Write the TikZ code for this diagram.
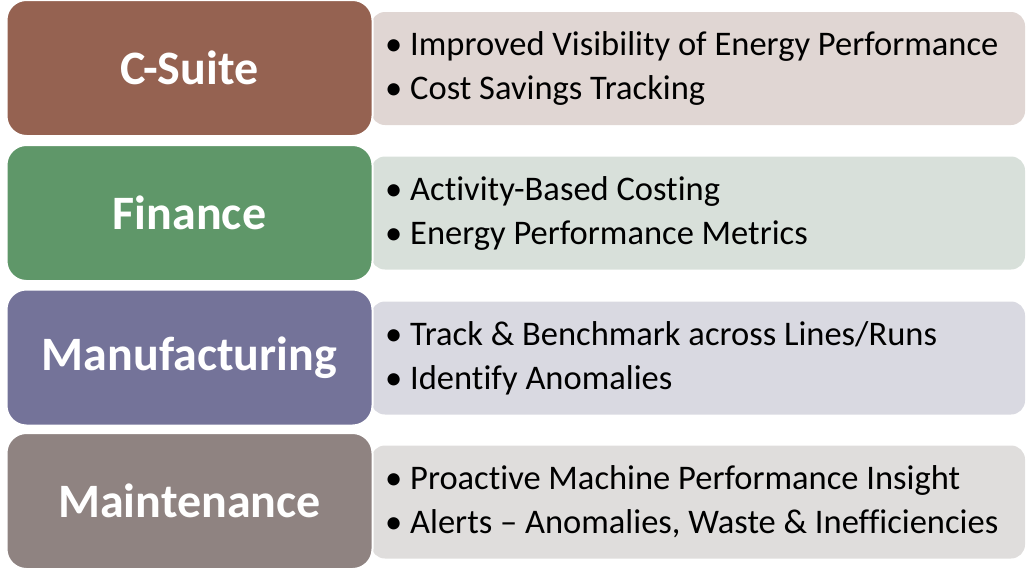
\documentclass[tikz,border=0pt]{standalone}
\usepackage{fontspec}
\setmainfont{Carlito}[Ligatures=NoCommon]
\usepackage{xcolor}
\usepackage{tikz}
\definecolor{csuite}{HTML}{956251}
\definecolor{csuitelt}{HTML}{E0D6D3}
\definecolor{finance}{HTML}{5F9769}
\definecolor{financelt}{HTML}{D8E0DA}
\definecolor{manuf}{HTML}{747399}
\definecolor{manuflt}{HTML}{D9D9E1}
\definecolor{maint}{HTML}{8F8381}
\definecolor{maintlt}{HTML}{DFDDDC}
\tikzset{
    role/.style = {rectangle, rounded corners=20pt, draw=white, line width=2pt, minimum width=366pt, minimum height=136pt, inner sep=0pt, text=white, font=\fontsize{48}{56}\selectfont\bfseries},
    info/.style = {rectangle, rounded corners=14pt, minimum width=654pt, minimum height=113pt, inner sep=0pt},
    items/.style = {anchor=west, align=left, inner sep=0pt, text=black, font=\fontsize{34.5}{44}\selectfont}
}
\begin{document}
\begin{tikzpicture}[x=1pt,y=-1pt]
    \useasboundingbox (0,0) rectangle (1031,568);
    % C-Suite
    \node [info, fill=csuitelt] (csuite_info) at (698,68.5) {};
    \node [role, fill=csuite] (csuite) at (189.5,68) {C-Suite};
    \node [items] (csuite_items) at (385,68) {• Improved Visibility of Energy Performance\\• Cost Savings Tracking};
    % Finance
    \node [info, fill=financelt] (finance_info) at (698,213) {};
    \node [role, fill=finance] (finance) at (189.5,213) {Finance};
    \node [items] (finance_items) at (385,213) {• Activity-Based Costing\\• Energy Performance Metrics};
    % Manufacturing
    \node [info, fill=manuflt] (manuf_info) at (698,358) {};
    \node [role, fill=manuf] (manuf) at (189.5,357.5) {Manufacturing};
    \node [items] (manuf_items) at (385,358) {• Track \& Benchmark across Lines/Runs\\• Identify Anomalies};
    % Maintenance
    \node [info, fill=maintlt] (maint_info) at (698,502) {};
    \node [role, fill=maint] (maint) at (189.5,501) {Maintenance};
    \node [items] (maint_items) at (385,502) {• Proactive Machine Performance Insight\\• Alerts – Anomalies, Waste \& Inefficiencies};
\end{tikzpicture}
\end{document}
